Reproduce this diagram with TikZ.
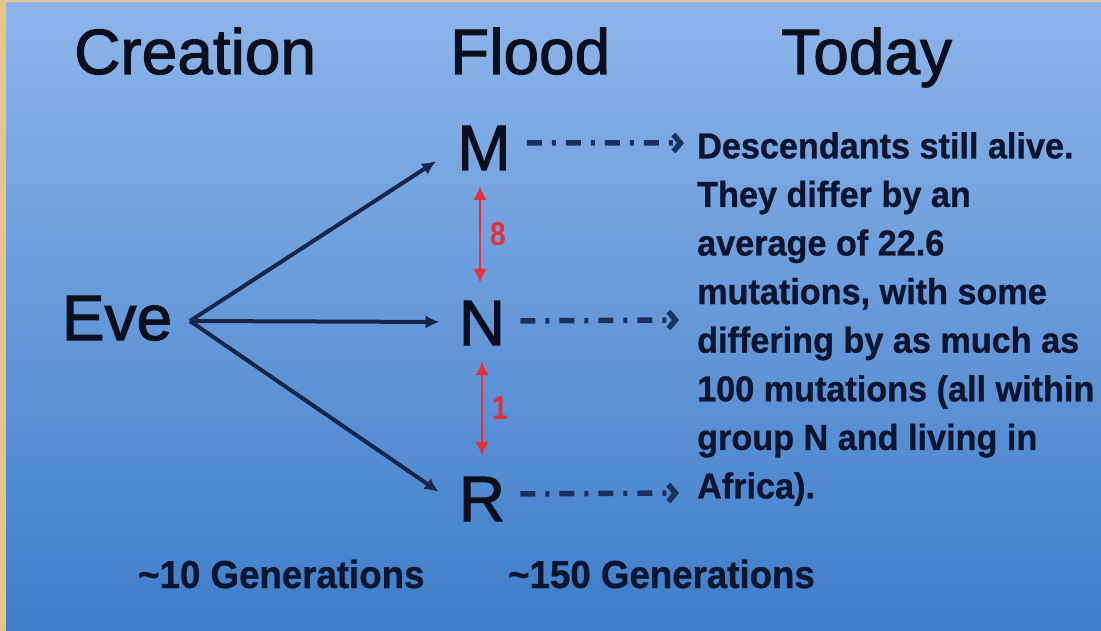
\documentclass[tikz,border=0pt]{standalone}
\usepackage{fontspec}
\setmainfont{Liberation Sans}
\newfontfamily\headfont{Liberation Sans}[FakeBold=1.6]
\newfontfamily\bodyfont{Liberation Sans}[FakeStretch=0.95,FakeBold=0.8]
\newfontfamily\genfont{Liberation Sans}[FakeStretch=0.94,FakeBold=0.8]
\newfontfamily\redfont{Liberation Sans}[FakeStretch=0.85]
\usetikzlibrary{arrows.meta}
\definecolor{bgtop}{HTML}{8EB5EA}
\definecolor{bgbot}{HTML}{3F7DC9}
\definecolor{gold}{HTML}{E3C68C}
\definecolor{ink}{HTML}{0A0F1E}
\definecolor{bodyink}{HTML}{0B1530}
\definecolor{navy}{HTML}{14264A}
\definecolor{dblue}{HTML}{1A305E}
\definecolor{redc}{HTML}{E3303C}
\begin{document}
\begin{tikzpicture}[x=1pt,y=-1pt,
  head/.style={font=\headfont\fontsize{64pt}{70pt}\selectfont, text=ink, inner sep=0pt, anchor=base west},
  letter/.style={font=\headfont\fontsize{64pt}{70pt}\selectfont, text=ink, inner sep=0pt, anchor=base},
  bodytext/.style={font=\bodyfont\bfseries\fontsize{36pt}{48.6pt}\selectfont, text=bodyink, inner sep=0pt, align=left, anchor=north west},
  gentext/.style={font=\genfont\bfseries\fontsize{39pt}{44pt}\selectfont, text=bodyink, inner sep=0pt, anchor=base west},
  redlabel/.style={font=\redfont\bfseries\fontsize{33pt}{34pt}\selectfont, text=redc, inner sep=0pt},
  navyarrow/.style={draw=navy, line width=4pt, -{Latex[length=14pt,width=13pt]}},
  dasharrow/.style={draw=dblue, line width=5.5pt, dash pattern=on 15pt off 10pt on 4pt off 10pt, -{Straight Barb[length=7pt,width=17pt]}},
  redarrow/.style={draw=redc, line width=2.8pt, {Latex[length=14pt,width=14pt]}-{Latex[length=14pt,width=14pt]}}
]
\useasboundingbox (0,0) rectangle (1101,631);
\shade[top color=bgtop, bottom color=bgbot] (0,0) rectangle (1101,631);
\fill[gold] (0,0) rectangle (6,631);
\fill[gold] (0,0) rectangle (1101,2.5);

% headings
\node[head] (creation) at (74,74) {Creation};
\node[head] (flood) at (450,74) {Flood};
\node[head] (today) at (781,74) {Today};

% letters
\node[letter] (Eve) at (117,340) {Eve};
\node[letter] (M) at (484,170) {M};
\node[letter] (N) at (482,345) {N};
\node[letter] (R) at (482,521) {R};

% body text
\node[bodytext] (desc) at (697,132) {Descendants still alive.\\They differ by an\\average of 22.6\\mutations, with some\\differing by as much as\\100 mutations (all within\\group N and living in\\Africa).};

% generations
\node[gentext] (gen10) at (138,588) {\textasciitilde10 Generations};
\node[gentext] (gen150) at (508,588) {\textasciitilde150 Generations};

% Eve arrows
\coordinate (fork) at (190,321);
\draw[navyarrow] (fork) -- ([shift={(-21,-9)}]M.south west);
\draw[navyarrow] (fork) -- ([shift={(-19,-1)}]N.west);
\draw[navyarrow] (fork) -- ([shift={(-20,15)}]R.north west);

% dash-dot arrows
\coordinate (tM) at (684,143);
\coordinate (tN) at (679,320);
\coordinate (tR) at (679,493);
\draw[dasharrow] ([shift={(16,-5)}]M.east) -- (tM);
\draw[dasharrow] ([shift={(15,-2)}]N.east) -- (tN);
\draw[dasharrow] ([shift={(15,-5)}]R.east) -- (tR);

% red arrows
\draw[redarrow] ([shift={(-4,16)}]M.south) -- ([shift={(-2,-18)}]N.north) node[midway, redlabel, xshift=18pt] (l8) {8};
\draw[redarrow] ([shift={(0,16)}]N.south) -- ([shift={(0,-21)}]R.north) node[midway, redlabel, xshift=18pt] (l1) {1};
\end{tikzpicture}
\end{document}
